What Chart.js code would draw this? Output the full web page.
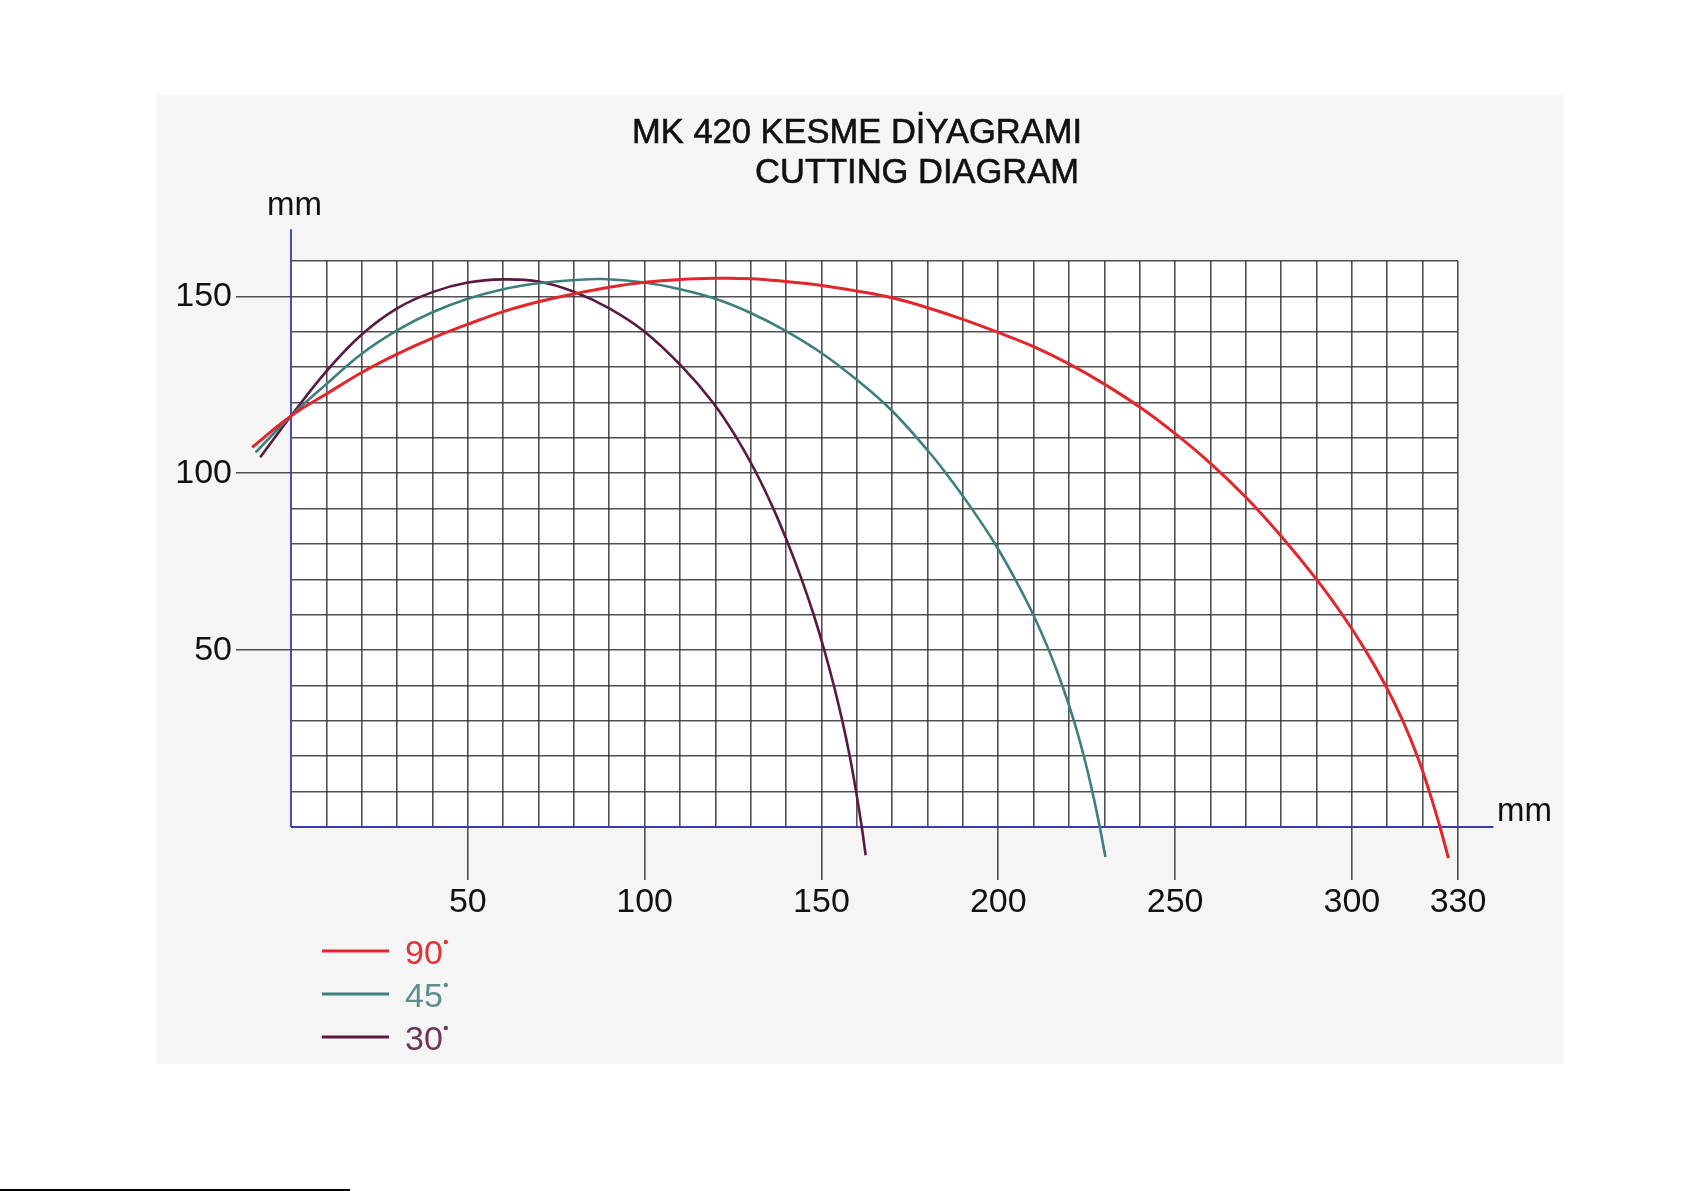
<!DOCTYPE html>
<html>
<head>
<meta charset="utf-8">
<title>MK 420 Kesme Diyagramı</title>
<script src="https://cdn.jsdelivr.net/npm/chart.js@4.4.1/dist/chart.umd.min.js"></script>
<style>
  html, body { margin: 0; padding: 0; background: #fff; }
  #chart { display: block; }
</style>
</head>
<body>
<canvas id="chart" width="1685" height="1191"></canvas>
<script>
/**
 * MK 420 cutting diagram - three cutting angles drawn as curves on a mm grid
 */

// Axis ticks that carry a label (the grid itself is every 10 mm)
const xTickLabels = [50, 100, 150, 200, 250, 300, 330];
const yTickLabels = [50, 100, 150];
const gridStep = 10;

// 90° cut
const cut90X = [-11, 0, 10, 20, 30, 40, 50, 60, 70, 80, 90, 100, 110, 120, 130, 140, 150, 160, 170, 180,
  190, 200, 210, 220, 230, 240, 250, 260, 270, 280, 290, 297.3, 303.8, 309.5, 314.4, 318.5, 321.9, 324.9, 327.3];
const cut90Y = [107.3, 116.2, 122.4, 128.5, 133.7, 138.2, 142.1, 145.7, 148.5, 150.7, 152.6, 154, 154.8, 155.1, 155, 154.2, 153.1, 151.5, 149.6, 146.8,
  143.5, 139.8, 135.8, 130.9, 125.2, 118.7, 111.2, 102.8, 93.2, 82.2, 70, 60, 50, 40, 30, 20, 10, 0, -8.8];

// 45° cut
const cut45X = [-10, 0, 10, 20, 30, 40, 50, 60, 70, 80, 88, 100, 110, 120, 130, 140, 150, 160, 170, 180,
  185.2, 192.5, 199.1, 204.8, 209.9, 214.3, 218.1, 221.4, 224.2, 226.6, 228.7, 230.3];
const cut45Y = [105.9, 116.2, 125.2, 133.8, 140.4, 145.5, 149.3, 152, 153.7, 154.6, 154.9, 153.9, 152, 149.3, 145.3, 140.2, 134, 126.4, 117.6, 106.5,
  100, 90, 80, 70, 60, 50, 40, 30, 20, 10, 0, -8.5];

// 30° cut
const cut30X = [-8.7, 0, 10, 20, 30, 40, 50, 60, 70, 80, 90, 100, 110.7, 119.3, 126, 131.6, 136.4, 140.6, 144.4, 147.8,
  150.8, 153.5, 155.9, 158, 159.8, 161.4, 162.5];
const cut30Y = [104.5, 116.2, 128.8, 139.2, 146.6, 151.2, 153.9, 154.8, 154.2, 151.3, 146.6, 140, 130, 120, 110, 100, 90, 80, 70, 60,
  50, 40, 30, 20, 10, 0, -8];

const seriesNames = ['90', '45', '30'];
const seriesColors = ['#e2262c', '#3e7e7c', '#5a1a3e'];
const legendTextColors = ['#e0343a', '#5e8c8a', '#6c3658'];

const FONT = '"Liberation Sans", Arial, Helvetica, sans-serif';
const GRID = 'rgba(50, 50, 50, 0.85)';
const AXIS = '#3b3bb0';

function toPoints(xs, ys) {
  return xs.map((x, i) => ({ x: x, y: ys[i] }));
}

function gridTicks(max) {
  const ticks = [];
  for (let v = 0; v <= max; v += gridStep) ticks.push({ value: v });
  return ticks;
}

/**
 * Page background, grey panel, white plot field and page-edge line
 */
const backgroundPlugin = {
  id: 'background',
  beforeDraw(chart) {
    const { ctx, chartArea } = chart;
    ctx.save();
    ctx.fillStyle = '#ffffff';
    ctx.fillRect(0, 0, chart.width, chart.height);
    ctx.fillStyle = '#f5f5f5';
    ctx.fillRect(156, 95, 1408, 969);
    ctx.fillStyle = '#ffffff';
    ctx.fillRect(chartArea.left, chartArea.top, chartArea.right - chartArea.left, chartArea.bottom - chartArea.top);
    // scan edge at the bottom of the page
    ctx.fillStyle = '#000000';
    ctx.fillRect(0, chart.height - 2, 350, 2);
    ctx.restore();
  },
};

/**
 * Blue axes, axis unit labels and title
 */
const axesPlugin = {
  id: 'axes',
  beforeDatasetsDraw(chart) {
    const { ctx } = chart;
    const xs = chart.scales.x;
    const ys = chart.scales.y;
    const x0 = xs.getPixelForValue(0);
    const y0 = ys.getPixelForValue(0);

    ctx.save();
    ctx.strokeStyle = AXIS;
    ctx.lineWidth = 1.8;
    ctx.beginPath();
    ctx.moveTo(x0, y0);
    ctx.lineTo(x0, ys.getPixelForValue(169));
    ctx.moveTo(x0, y0);
    ctx.lineTo(xs.getPixelForValue(340), y0);
    ctx.stroke();

    ctx.fillStyle = '#111111';
    ctx.font = `33px ${FONT}`;
    ctx.textAlign = 'left';
    ctx.textBaseline = 'alphabetic';
    ctx.fillText('mm', x0 - 24, ys.getPixelForValue(169) - 14);
    ctx.fillText('mm', xs.getPixelForValue(341), y0 - 6);

    // title, slightly heavier like the scanned original
    ctx.font = `34.5px ${FONT}`;
    ctx.textAlign = 'right';
    ctx.strokeStyle = '#111111';
    ctx.lineWidth = 0.6;
    ctx.fillText('MK 420 KESME DİYAGRAMI', 1082, 142.5);
    ctx.strokeText('MK 420 KESME DİYAGRAMI', 1082, 142.5);
    ctx.fillText('CUTTING DIAGRAM', 1079, 182.5);
    ctx.strokeText('CUTTING DIAGRAM', 1079, 182.5);
    ctx.restore();
  },
};

/**
 * Legend under the chart: short line + angle label
 */
const cutLegendPlugin = {
  id: 'cutLegend',
  afterDraw(chart) {
    const { ctx } = chart;
    ctx.save();
    chart.data.datasets.forEach((ds, i) => {
      const y = 951 + i * 43;
      ctx.strokeStyle = ds.borderColor;
      ctx.lineWidth = 3;
      ctx.beginPath();
      ctx.moveTo(322, y);
      ctx.lineTo(389, y);
      ctx.stroke();

      ctx.fillStyle = legendTextColors[i];
      ctx.font = `34px ${FONT}`;
      ctx.textAlign = 'left';
      ctx.textBaseline = 'alphabetic';
      ctx.fillText(seriesNames[i], 405, y + 13);
      const w = ctx.measureText(seriesNames[i]).width;
      ctx.beginPath();
      ctx.arc(405 + w + 3, y - 9, 2.2, 0, Math.PI * 2);
      ctx.fill();
    });
    ctx.restore();
  },
};

const canvas = document.getElementById('chart');

new Chart(canvas, {
  type: 'line',
  data: {
    datasets: [
      { label: '90°', data: toPoints(cut90X, cut90Y), borderColor: seriesColors[0], borderWidth: 3 },
      { label: '45°', data: toPoints(cut45X, cut45Y), borderColor: seriesColors[1], borderWidth: 2.6 },
      { label: '30°', data: toPoints(cut30X, cut30Y), borderColor: seriesColors[2], borderWidth: 2.6 },
    ].map((ds) => ({
      ...ds,
      fill: false,
      pointRadius: 0,
      tension: 0.4,
      capBezierPoints: false,
      clip: false,
    })),
  },
  options: {
    responsive: false,
    animation: false,
    devicePixelRatio: 1,
    layout: {
      padding: { left: 291 - 120, top: 261, right: 1685 - 1458, bottom: 1191 - 827 - 120 },
    },
    plugins: {
      legend: { display: false },
      tooltip: { enabled: false },
    },
    scales: {
      x: {
        type: 'linear',
        min: 0,
        max: 330,
        afterFit: (scale) => { scale.height = 120; },
        afterBuildTicks: (scale) => { scale.ticks = gridTicks(330); },
        border: { display: false },
        grid: {
          color: (c) => (c.tick && c.tick.value === 0 ? 'transparent' : GRID),
          lineWidth: 1.6,
          tickLength: 53,
          tickColor: (c) => (c.tick && xTickLabels.includes(c.tick.value) ? GRID : 'transparent'),
        },
        ticks: {
          autoSkip: false,
          maxRotation: 0,
          padding: 2,
          color: '#111111',
          font: { family: FONT, size: 34 },
          callback: (v) => (xTickLabels.includes(v) ? String(v) : ''),
        },
      },
      y: {
        type: 'linear',
        min: 0,
        max: 160,
        afterFit: (scale) => { scale.width = 120; },
        afterBuildTicks: (scale) => { scale.ticks = gridTicks(160); },
        border: { display: false },
        grid: {
          color: (c) => (c.tick && c.tick.value === 0 ? 'transparent' : GRID),
          lineWidth: 1.6,
          tickLength: 55,
          tickColor: (c) => (c.tick && yTickLabels.includes(c.tick.value) ? GRID : 'transparent'),
        },
        ticks: {
          autoSkip: false,
          padding: 4,
          color: '#111111',
          font: { family: FONT, size: 34 },
          callback: (v) => (yTickLabels.includes(v) ? String(v) : ''),
        },
      },
    },
  },
  plugins: [backgroundPlugin, axesPlugin, cutLegendPlugin],
});
</script>
</body>
</html>
